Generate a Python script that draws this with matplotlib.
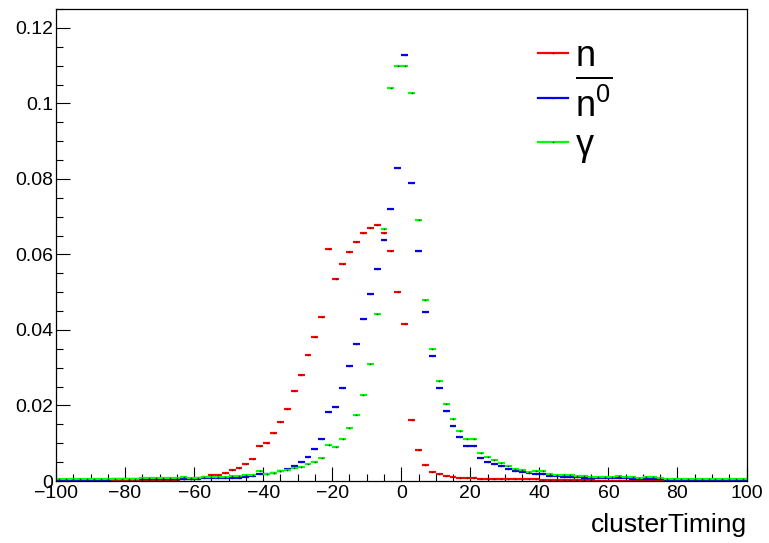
import numpy as np
import matplotlib
matplotlib.use("Agg")
import matplotlib.pyplot as plt
from matplotlib.ticker import MultipleLocator, FormatStrFormatter

plt.rcParams['font.family'] = ['Liberation Sans', 'DejaVu Sans']
plt.rcParams['mathtext.fontset'] = 'custom'
plt.rcParams['mathtext.rm'] = 'Liberation Sans'
plt.rcParams['mathtext.it'] = 'Liberation Sans'
plt.rcParams['mathtext.bf'] = 'Liberation Sans:bold'

# histogram binning: 100 bins of width 2 from -100 to 100
bin_edges = np.arange(-100, 101, 2)

# n (red)
n_vals = [
    0.0001, 0.0001, 0.0001, 0.0001, 0.0001, 0.0001, 0.0001, 0.0001, 0.0001, 0.0001,  # -99..-81
    0.0002, 0.0002, 0.0002, 0.0002, 0.0002, 0.0002, 0.0002,                          # -79..-67
    0.0003, 0.0004, 0.0005, 0.0008, 0.0011,                                          # -65..-57
    0.0015, 0.0017, 0.0022, 0.0028, 0.0034, 0.0044, 0.0058, 0.0094, 0.0100, 0.0126,  # -55..-37
    0.0156, 0.0192, 0.0238, 0.0281, 0.0333, 0.0382, 0.0434, 0.0614, 0.0536, 0.0576,  # -35..-17
    0.0606, 0.0634, 0.0658, 0.0670, 0.0677, 0.0658, 0.0608, 0.0500, 0.0415, 0.0162,  # -15..3
    0.0081, 0.0042, 0.0025, 0.0018, 0.0012, 0.0010, 0.0009, 0.0009, 0.0009, 0.0006,  # 5..23
    0.0006, 0.0006, 0.0005, 0.0005, 0.0005, 0.0005, 0.0004, 0.0004, 0.0003, 0.0003,  # 25..43
    0.0003, 0.0003, 0.0002, 0.0002, 0.0002, 0.0002, 0.0001, 0.0001, 0.0001, 0.0001,  # 45..63
    0.0001, 0.0001, 0.0001, 0.0001, 0.0001, 0.0001, 0.0001, 0.0001, 0.0001, 0.0001,  # 65..83
    0.0001, 0.0001, 0.0001, 0.0001, 0.0001, 0.0001, 0.0001, 0.0001,                  # 85..99
]

# n-bar^0 (blue)
nbar_vals = [
    0.0002, 0.0002, 0.0002, 0.0002, 0.0002, 0.0002, 0.0002, 0.0002,                  # -99..-85
    0.0004, 0.0004, 0.0004, 0.0004, 0.0004, 0.0004, 0.0004, 0.0004, 0.0004, 0.0004,  # -83..-65
    0.0005, 0.0006, 0.0006, 0.0007,                                                  # -63..-57
    0.0007, 0.0007, 0.0007, 0.0008, 0.0008, 0.0011, 0.0013, 0.0019, 0.0018, 0.0022,  # -55..-37
    0.0027, 0.0033, 0.0039, 0.0051, 0.0064, 0.0084, 0.0110, 0.0182, 0.0195, 0.0245,  # -35..-17
    0.0304, 0.0362, 0.0428, 0.0494, 0.0562, 0.0638, 0.0720, 0.0828, 0.1127, 0.0789,  # -15..3
    0.0608, 0.0448, 0.0330, 0.0245, 0.0185, 0.0146, 0.0117, 0.0094, 0.0094, 0.0061,  # 5..23
    0.0051, 0.0044, 0.0039, 0.0031, 0.0026, 0.0024, 0.0022, 0.0019, 0.0019, 0.0014,  # 25..43
    0.0012, 0.0011, 0.0010, 0.0010, 0.0009, 0.0008, 0.0008, 0.0007, 0.0007, 0.0007,  # 45..63
    0.0007, 0.0006, 0.0006, 0.0006, 0.0006, 0.0006, 0.0003, 0.0003, 0.0003, 0.0003,  # 65..83
    0.0003, 0.0003, 0.0003, 0.0003, 0.0003, 0.0003, 0.0003, 0.0003,                  # 85..99
]

# gamma (green)
gamma_vals = [
    0.0005, 0.0005, 0.0005, 0.0005, 0.0005, 0.0005, 0.0005, 0.0005,                  # -99..-85
    0.0006, 0.0006, 0.0006, 0.0006,                                                  # -83..-77
    0.0007, 0.0007, 0.0007, 0.0007, 0.0007, 0.0007,                                  # -75..-65
    0.0010, 0.0009, 0.0009, 0.0010,                                                  # -63..-57
    0.0010, 0.0011, 0.0011, 0.0012, 0.0013, 0.0015, 0.0017, 0.0026, 0.0019, 0.0022,  # -55..-37
    0.0027, 0.0030, 0.0034, 0.0038, 0.0045, 0.0051, 0.0061, 0.0095, 0.0090, 0.0110,  # -35..-17
    0.0140, 0.0176, 0.0228, 0.0310, 0.0442, 0.0668, 0.1041, 0.1100, 0.1100, 0.1028,  # -15..3
    0.0690, 0.0480, 0.0349, 0.0264, 0.0205, 0.0165, 0.0133, 0.0110, 0.0110, 0.0074,  # 5..23
    0.0064, 0.0055, 0.0048, 0.0040, 0.0033, 0.0028, 0.0025, 0.0026, 0.0027, 0.0019,  # 25..43
    0.0016, 0.0016, 0.0015, 0.0013, 0.0012, 0.0010, 0.0010, 0.0010, 0.0011, 0.0012,  # 45..63
    0.0010, 0.0010, 0.0009, 0.0010, 0.0010, 0.0008, 0.0005, 0.0005, 0.0005, 0.0005,  # 65..83
    0.0005, 0.0005, 0.0005, 0.0005, 0.0005, 0.0005, 0.0005, 0.0005,                  # 85..99
]

series_labels = [r'$\mathrm{n}$', r'$\overline{\mathrm{n}^{0}}$', r'$\gamma$']
series_colors = ['#ff0000', '#0000ff', '#00ff00']
series_vals = [n_vals, nbar_vals, gamma_vals]

x_label = 'clusterTiming'

fig = plt.figure(figsize=(7.69, 5.43), dpi=100)
ax = fig.add_axes([56 / 769, 1 - 481 / 543, 690.5 / 769, 472 / 543])

lefts = bin_edges[:-1]
rights = bin_edges[1:]
centers = 0.5 * (lefts + rights)
for vals, col in zip(series_vals, series_colors):
    v = np.asarray(vals)
    assert len(v) == len(centers)
    ax.hlines(v, lefts, rights, colors=col, lw=1.6)
    ax.plot(centers, v, 's', ms=1.0, mew=0, color='#202020')

ax.set_xlim(-100, 100)
ax.set_ylim(0, 0.125)
ax.xaxis.set_major_locator(MultipleLocator(20))
ax.xaxis.set_minor_locator(MultipleLocator(5))
ax.yaxis.set_major_locator(MultipleLocator(0.02))
ax.yaxis.set_minor_locator(MultipleLocator(0.005))
ax.yaxis.set_major_formatter(FormatStrFormatter('%g'))
ax.tick_params(which='both', direction='in', top=False, right=False,
               labelsize=14, width=0.8, color='black')
ax.tick_params(which='major', length=10)
ax.tick_params(which='minor', length=5)
ax.tick_params(axis='x', pad=3)
ax.tick_params(axis='y', pad=2)
for s in ax.spines.values():
    s.set_linewidth(0.9)

ax.set_xlabel(x_label, fontsize=19, loc='right', labelpad=8)

# legend (manual, ROOT TLegend style)
leg_y = [0.9068, 0.8114, 0.7182]
for lab, col, yy in zip(series_labels, series_colors, leg_y):
    ax.plot([0.698, 0.7415], [yy, yy], color=col, lw=1.6, transform=ax.transAxes)
    ax.plot([0.7198], [yy], 's', ms=1.0, mew=0, color='#202020', transform=ax.transAxes)
    ax.text(0.752, yy, lab, fontsize=26, va='center_baseline', ha='left',
            transform=ax.transAxes)

fig.savefig('out.png', dpi=100)
